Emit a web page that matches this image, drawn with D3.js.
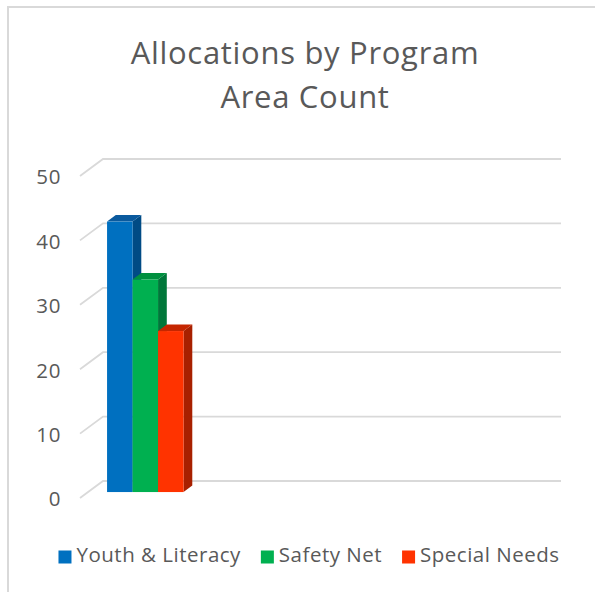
<!DOCTYPE html>
<html><head><meta charset="utf-8">
<script src="https://cdn.jsdelivr.net/npm/d3@7"></script>
<style>html,body{margin:0;padding:0;background:#fff;}svg{display:block;}</style>
</head><body>
<svg id="chart" width="595" height="592"></svg>
<script>
// ---- data ----
const titleLines = ["Allocations by Program", "Area Count"];
const categories = ["Area 1", "Area 2", "Area 3", "Area 4"];
const seriesNames = ["Youth & Literacy", "Safety Net", "Special Needs"];
const youthLiteracy = [42, null, null, null];
const safetyNet = [33, null, null, null];
const specialNeeds = [25, null, null, null];
const yTicks = [0, 10, 20, 30, 40, 50];
const seriesColors = ["#0070C0", "#00B050", "#FF3300"];
const sideColors = ["#004B85", "#00773A", "#A82000"];
const topColors = ["#0A5A9E", "#00903F", "#C52600"];

const seriesValues = [youthLiteracy, safetyNet, specialNeeds];

// ---- layout ----
const svg = d3.select("#chart");
const FONT = "'Open Sans', 'Noto Sans', sans-serif";
const textColor = "#595959";
const gridColor = "#d9d9d9";

// chart border
svg.append("rect").attr("x", 8).attr("y", 7).attr("width", 700).attr("height", 700)
  .attr("fill", "none").attr("stroke", gridColor).attr("stroke-width", 2);

// title
svg.append("g").selectAll("text").data(titleLines).join("text")
  .attr("x", 305).attr("y", (d, i) => 64 + i * 44)
  .attr("text-anchor", "middle")
  .attr("font-family", FONT).attr("font-size", 31).attr("letter-spacing", 0.7)
  .attr("fill", textColor)
  .text(d => d);

// 3D projection parameters
const depthDx = 23, depthDy = -17;      // full floor depth offset
const barF0 = 0.35, barF1 = 0.73;        // bar depth position as fraction of floor depth

const y = d3.scaleLinear().domain([0, 50]).range([498, 176]);
const x0 = d3.scaleBand().domain(categories).range([80, 538]).paddingInner(0.332).paddingOuter(0.166);
const x1 = d3.scaleBand().domain(seriesNames).range([0, x0.bandwidth()]);

// gridlines: side wall diagonal + back wall horizontal
const grid = svg.append("g");
const backRight = 538 + depthDx;
yTicks.forEach(t => {
  const yf = y(t);
  grid.append("path")
    .attr("d", `M80,${yf}L${80 + depthDx},${yf + depthDy}L${backRight},${yf + depthDy}`)
    .attr("fill", "none").attr("stroke", gridColor).attr("stroke-width", 1.8);
});

// y axis labels
svg.append("g").selectAll("text").data(yTicks).join("text")
  .attr("x", 61).attr("y", d => y(d) + 3)
  .attr("text-anchor", "end").attr("dominant-baseline", "middle")
  .attr("font-family", FONT).attr("font-size", 20.5).attr("letter-spacing", 0.6)
  .attr("fill", textColor)
  .text(d => d);

// bars
const bars = [];
categories.forEach((c, ci) => {
  seriesNames.forEach((s, si) => {
    const v = seriesValues[si][ci];
    if (v == null) return;
    bars.push({c, s, si, v});
  });
});
const ox = barF0 * depthDx, oy = barF0 * depthDy;
const bdx = (barF1 - barF0) * depthDx, bdy = (barF1 - barF0) * depthDy;
const gBars = svg.append("g");
bars.forEach(b => {
  const xl = x0(b.c) + x1(b.s) + ox;
  const xr = xl + x1.bandwidth();
  const yb = y(0) + oy;
  const yt = y(b.v) + oy;
  // side face
  gBars.append("path")
    .attr("d", `M${xr},${yt}L${xr + bdx},${yt + bdy}L${xr + bdx},${yb + bdy}L${xr},${yb}Z`)
    .attr("fill", sideColors[b.si]);
  // top face
  gBars.append("path")
    .attr("d", `M${xl},${yt}L${xl + bdx},${yt + bdy}L${xr + bdx},${yt + bdy}L${xr},${yt}Z`)
    .attr("fill", topColors[b.si]);
  // front face
  gBars.append("rect")
    .attr("x", xl).attr("y", yt).attr("width", xr - xl).attr("height", yb - yt)
    .attr("fill", seriesColors[b.si]);
});

// legend
const legend = svg.append("g");
const items = legend.selectAll("g").data(seriesNames).join("g");
items.append("rect").attr("width", 13).attr("height", 13).attr("y", -6.5)
  .attr("fill", (d, i) => seriesColors[i]);
items.append("text").attr("x", 18).attr("y", 0).attr("dominant-baseline", "middle")
  .attr("font-family", FONT).attr("font-size", 20.5).attr("letter-spacing", 0.5)
  .attr("fill", textColor)
  .text(d => d);
let widths = [];
items.each(function() { widths.push(18 + this.querySelector("text").getComputedTextLength()); });
const gap = 20;
const total = d3.sum(widths) + gap * (widths.length - 1);
let cx = 309 - total / 2;
items.each(function(d, i) {
  d3.select(this).attr("transform", `translate(${cx},557)`);
  cx += widths[i] + gap;
});
</script>
</body></html>
